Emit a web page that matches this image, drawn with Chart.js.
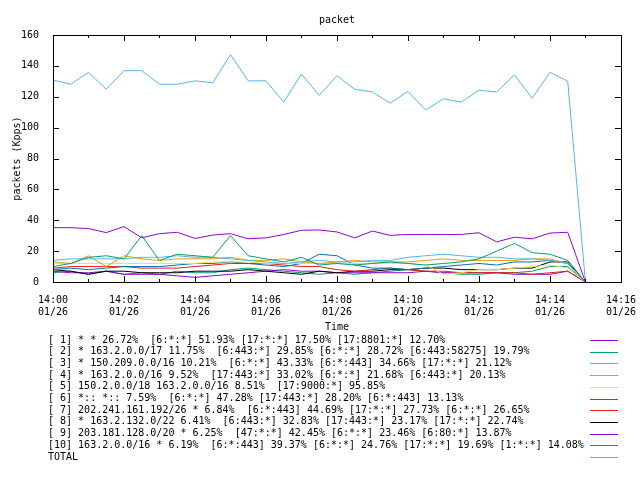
<!DOCTYPE html>
<html><head><meta charset="utf-8">
<script src="https://cdn.jsdelivr.net/npm/chart.js@4"></script>
<style>html,body{margin:0;padding:0;background:#fff}#w{width:640px;height:480px}</style>
</head><body><div id="w"><canvas id="c" width="640" height="480"></canvas></div>
<script>
const times=[0,0.5,1,1.5,2,2.5,3,3.5,4,4.5,5,5.5,6,6.5,7,7.5,8,8.5,9,9.5,10,10.5,11,11.5,12,12.5,13,13.5,14,14.5,15];
const xTickLabels=['14:00','14:02','14:04','14:06','14:08','14:10','14:12','14:14','14:16'];
const dateLabel='01/26';
const names=[
'[ 1] * * 26.72%  [6:*:*] 51.93% [17:*:*] 17.50% [17:8801:*] 12.70%',
'[ 2] * 163.2.0.0/17 11.75%  [6:443:*] 29.85% [6:*:*] 28.72% [6:443:58275] 19.79%',
'[ 3] * 150.209.0.0/16 10.21%  [6:*:*] 43.33% [6:*:443] 34.66% [17:*:*] 21.12%',
'[ 4] * 163.2.0.0/16 9.52%  [17:443:*] 33.02% [6:*:*] 21.68% [6:443:*] 20.13%',
'[ 5] 150.2.0.0/18 163.2.0.0/16 8.51%  [17:9000:*] 95.85%',
'[ 6] *:: *:: 7.59%  [6:*:*] 47.28% [17:443:*] 28.20% [6:*:443] 13.13%',
'[ 7] 202.241.161.192/26 * 6.84%  [6:*:443] 44.69% [17:*:*] 27.73% [6:*:*] 26.65%',
'[ 8] * 163.2.132.0/22 6.41%  [6:443:*] 32.83% [17:443:*] 23.17% [17:*:*] 22.74%',
'[ 9] 203.181.128.0/20 * 6.25%  [47:*:*] 42.45% [6:*:*] 23.46% [6:80:*] 13.87%',
'[10] 163.2.0.0/16 * 6.19%  [6:*:443] 39.37% [6:*:*] 24.76% [17:*:*] 19.69% [1:*:*] 14.08%',
'TOTAL'];
const s1=[35.2,35.2,34.6,32,35.9,28.6,31.3,32.2,28.2,30.4,31.3,28,28.6,30.8,33.5,33.7,32.4,28.6,33,30.2,30.8,30.8,30.8,30.8,31.9,26,29,28,31.7,32.2,0];
const s2=[10,12,16,17,15,30,14,18,17,16,30,17,15,13,16,11,12,11,12,13,12,11,12,13,15,20,25,19,18,14,0];
const s3=[14,15,15,15,15,16,16,17,16,16,15,14,13,12,13,14,13,13,14,14,16,17,18,17,16,16,15,15,14,12,0];
const s4=[13,12,17,10,17,15,14,15,15,15,16,14,14,15,13,12,13,14,13,13,13,14,15,14,14,14,14,15,15,12,0];
const s5=[12,12,12,12,12,12,12,12,12,13,13,13,12,12,12,12,12,12,12,12,12,11,5,6,8,8,9,10,11,9,0];
const s6=[8,9,8,9,10,10,10,11,12,12,13,12,11,10,12,18,17,11,9,9,8,9,10,11,12,11,13,13,14,12,0];
const s7=[9,10,10,10,10,9,9,9,10,11,12,12,12,11,10,10,8,7,8,9,8,7,7,6,6,6,6,5,6,7,0];
const s8=[8,7,5,7,7,6,6,6,7,7,7,8,7,6,5,7,6,7,7,8,8,9,9,8,8,8,9,9,13,13,0];
const s9=[7,6,6,7,5,5,5,4,3,4,5,6,7,8,7,7,6,6,6,6,6,7,6,6,6,6,5,5,5,7,0];
const s10=[6,7,5,7,5,6,5,7,6,6,8,9,8,7,6,5,6,5,6,7,8,7,6,5,5,6,6,7,10,10,0];
const total=[130.8,128.1,135.8,124.8,136.9,136.9,128.1,128.1,130.3,129,147.3,130.3,130.3,116.5,134.7,120.9,133.6,124.8,123.1,115.8,123.5,111.4,118.7,116.5,124.2,123.1,134.1,119.1,135.8,130.1,0];
const series=[s1,s2,s3,s4,s5,s6,s7,s8,s9,s10,total];
const colors=['#9400d3','#009e73','#56b4e9','#e69f00','#f0e442','#0072b2','#e51e10','#000000','#9400d3','#009e73','#56b4e9'];

const FONT='"DejaVu Sans Mono", monospace';
const frame={id:'frame',afterDraw(ch){
  const c=ch.ctx,a=ch.chartArea,x=ch.scales.x,y=ch.scales.y;
  c.save();c.strokeStyle='#000';c.lineWidth=1;
  c.strokeRect(Math.round(a.left)+0.5,Math.round(a.top)+0.5,Math.round(a.right-a.left),Math.round(a.bottom-a.top));
  c.beginPath();
  for(let m=0;m<=16;m++){const px=Math.round(x.getPixelForValue(m))+0.5;
    const L=(m%2==0)?6:3;
    c.moveTo(px,a.bottom);c.lineTo(px,a.bottom-L);c.moveTo(px,a.top);c.lineTo(px,a.top+L);}
  for(let v=0;v<=160;v+=20){const py=Math.round(y.getPixelForValue(v))+0.5;
    c.moveTo(a.left,py);c.lineTo(a.left+6,py);c.moveTo(a.right,py);c.lineTo(a.right-6,py);}
  c.stroke();
  c.fillStyle='#000';c.font='10px '+FONT;c.textAlign='center';c.textBaseline='middle';
  c.fillText('packet',(a.left+a.right)/2,20);
  c.fillText('Time',(a.left+a.right)/2,327);
  c.save();c.translate(17,(a.top+a.bottom)/2);c.rotate(-Math.PI/2);c.fillText('packets (Kpps)',0,0);c.restore();
  c.font='10px '+FONT;c.textAlign='left';
  for(let i=0;i<names.length;i++){const ly=340+i*11.7;
    c.fillStyle='#000';c.fillText(names[i],48,ly);
    c.strokeStyle=colors[i];c.beginPath();c.moveTo(590,Math.round(ly)+0.5);c.lineTo(618,Math.round(ly)+0.5);c.stroke();}
  c.restore();}};

new Chart(document.getElementById('c'),{type:'line',
 data:{datasets:series.map((s,i)=>({label:names[i],data:s.map((v,j)=>({x:times[j],y:v})),borderColor:colors[i],borderWidth:1,pointRadius:0,fill:false,tension:0}))},
 options:{responsive:false,animation:false,devicePixelRatio:1,
  layout:{padding:{left:0,right:19,top:35,bottom:0}},
  plugins:{legend:{display:false},tooltip:{enabled:false}},
  scales:{
   x:{type:'linear',min:0,max:16,afterFit(s){s.height=198;},
      ticks:{stepSize:1,autoSkip:false,maxRotation:0,color:'#000',font:{family:FONT,size:10},padding:4,
        callback:(v)=>(v%2===0)?[xTickLabels[v/2],dateLabel]:''},
      grid:{display:false},border:{display:false}},
   y:{min:0,max:160,afterFit(s){s.width=53;},
      ticks:{stepSize:20,color:'#000',font:{family:FONT,size:10},padding:6},
      grid:{display:false},border:{display:false}}}},
 plugins:[frame]});
</script></body></html>
